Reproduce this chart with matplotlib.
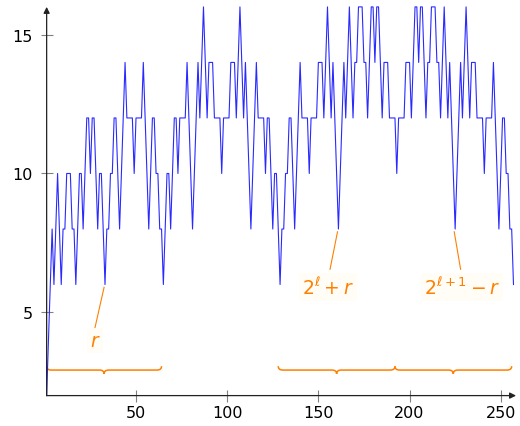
import numpy as np
import matplotlib.pyplot as plt
from matplotlib.path import Path
from matplotlib.patches import PathPatch

plt.rcParams["mathtext.fontset"] = "dejavusans"
plt.rcParams["font.family"] = "DejaVu Sans"

# sequence values, one per n = 1 .. 257
values = [
    2, 4, 6, 8, 6, 8, 10, 8, 6, 8, 8, 10, 10, 10, 8, 8, 6,
    8, 10, 10, 8, 10, 12, 12, 10, 12, 12, 10, 8, 10, 10, 8, 6,
    8, 8, 10, 10, 12, 12, 10, 8, 10, 12, 14, 12, 12, 12, 12, 10,
    12, 12, 12, 12, 14, 12, 10, 8, 10, 12, 12, 10, 10, 8, 8, 6,
    8, 10, 10, 8, 10, 12, 12, 10, 12, 12, 12, 12, 14, 12, 10, 8,
    10, 12, 14, 12, 14, 16, 14, 12, 14, 14, 14, 12, 12, 12, 12, 10,
    12, 12, 12, 12, 14, 14, 14, 12, 14, 16, 14, 12, 14, 12, 10, 8,
    10, 12, 14, 12, 12, 12, 12, 10, 12, 12, 10, 8, 10, 10, 8, 6,
    8, 8, 10, 10, 12, 12, 10, 8, 10, 12, 14, 12, 12, 12, 12, 10,
    12, 12, 12, 12, 14, 14, 14, 12, 14, 16, 14, 12, 14, 12, 10, 8,
    10, 12, 14, 12, 14, 16, 14, 12, 14, 14, 16, 16, 16, 14, 14, 12,
    14, 16, 16, 14, 16, 16, 14, 12, 14, 14, 14, 12, 12, 12, 12, 10,
    12, 12, 12, 12, 14, 14, 14, 12, 14, 16, 16, 14, 16, 16, 14, 12,
    14, 14, 16, 16, 16, 14, 14, 12, 14, 16, 14, 12, 14, 12, 10, 8,
    10, 12, 14, 12, 14, 16, 14, 12, 14, 14, 14, 12, 12, 12, 12, 10,
    12, 12, 12, 12, 14, 12, 10, 8, 10, 12, 12, 10, 10, 8, 8, 6,
]
n = np.arange(1, len(values) + 1)

# the three ranges marked with braces and the points they point at
brace_spans = [(1, 64), (128, 192), (192, 256)]
marked_n = [33, 161, 225]
marked_labels = [r"$r$", r"$2^{\ell}+r$", r"$2^{\ell+1}-r$"]

orange = "#ff8000"

fig = plt.figure(figsize=(5.2, 4.27), dpi=100)
ax = fig.add_axes([0.0897, 0.0712, 0.9027, 0.9103])

ax.plot(n, values, color="#2a2aff", lw=0.8, clip_on=False, zorder=3)

ax.set_xlim(1, 258.4)
ax.set_ylim(2, 16)
ax.set_xticks([50, 100, 150, 200, 250])
ax.set_yticks([5, 10, 15])
ax.tick_params(direction="inout", length=8, width=0.8, color="#808080",
               labelsize=11.5, pad=3)
ax.tick_params(axis="y", pad=6)
for s in ax.spines.values():
    s.set_visible(False)

# axis lines with arrow tips
arrow = dict(arrowstyle="-|>", color="#222222", lw=0.9, mutation_scale=9,
             shrinkA=0, shrinkB=0)
ax.annotate("", xy=(1, 0), xytext=(0, 0), xycoords="axes fraction",
            arrowprops=arrow, annotation_clip=False)
ax.annotate("", xy=(0, 1), xytext=(0, 0), xycoords="axes fraction",
            arrowprops=arrow, annotation_clip=False)


def brace(x0, x1, y, w=2.5, h=0.14):
    xm = (x0 + x1) / 2
    verts = [(x0, y + h), (x0, y), (x0 + w, y), (xm - w, y), (xm, y), (xm, y - h),
             (xm, y), (xm + w, y), (x1 - w, y), (x1, y), (x1, y + h)]
    codes = [Path.MOVETO, Path.CURVE3, Path.CURVE3, Path.LINETO, Path.CURVE3,
             Path.CURVE3, Path.CURVE3, Path.CURVE3, Path.LINETO, Path.CURVE3,
             Path.CURVE3]
    ax.add_patch(PathPatch(Path(verts, codes), fill=False, ec=orange, lw=1.1,
                           clip_on=False))


for x0, x1 in brace_spans:
    brace(x0, x1, 2.92)

# pins from the marked points down to their labels
label_xy = [(27.5, 3.98), (155.3, 5.92), (228.7, 5.92)]
pin_end = [(27.0, 4.3), (156.4, 6.55), (228.0, 6.55)]
for m, lab, (tx, ty), (px, py) in zip(marked_n, marked_labels, label_xy, pin_end):
    ax.plot([m - 0.5, px], [values[m - 1] - 0.1, py], color=orange, lw=0.8)
    ax.text(tx, ty, lab, color=orange, fontsize=13.5, ha="center", va="center",
            bbox=dict(fc="#fffdf5", ec="none", pad=2))

fig.savefig("out.png", dpi=100)
